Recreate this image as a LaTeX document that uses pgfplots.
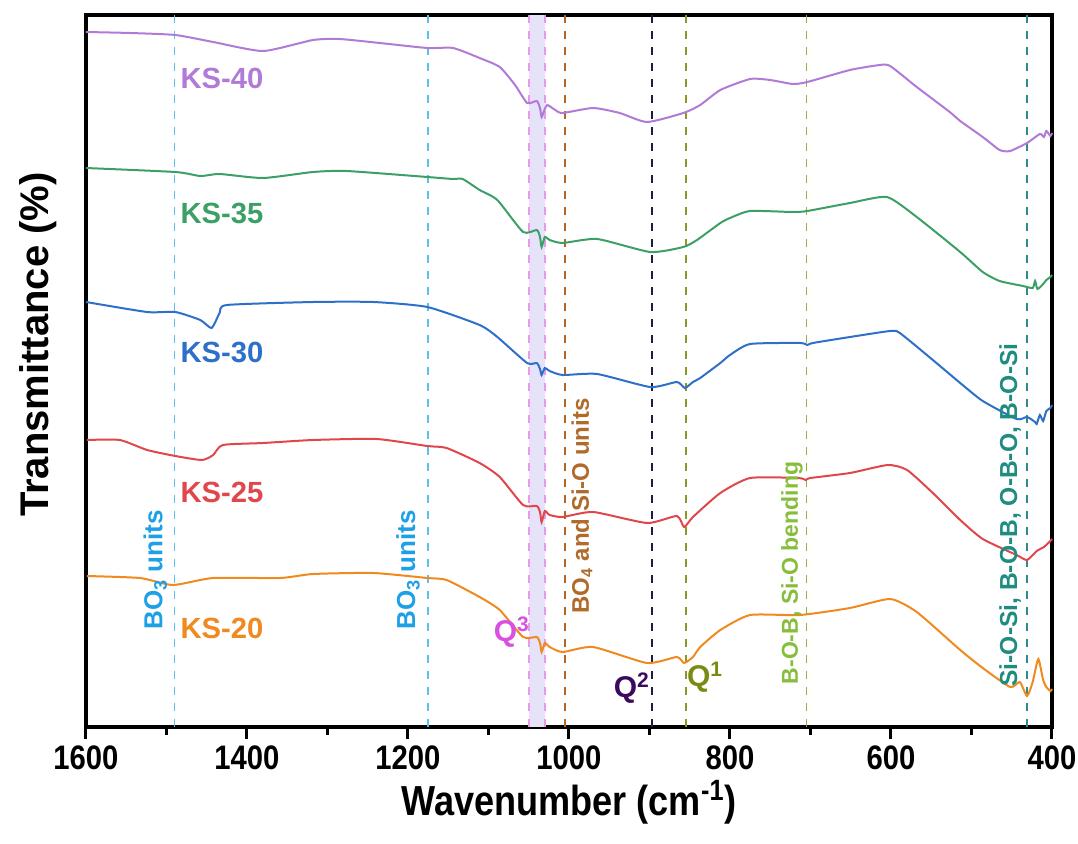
\documentclass[border=0pt]{standalone}
\usepackage{pgfplots}
\pgfplotsset{compat=1.18}
\usepackage{fontspec}
\setmainfont{Liberation Sans}
\newfontfamily\narrowsf[FakeStretch=0.86]{Liberation Sans}

\definecolor{cks40}{HTML}{B07AD6}
\definecolor{cks35}{HTML}{3CA066}
\definecolor{cks30}{HTML}{2E6FC9}
\definecolor{cks25}{HTML}{E0474C}
\definecolor{cks20}{HTML}{F0891E}
\definecolor{lbo3}{HTML}{5BC0EB}
\definecolor{tbo3}{HTML}{1EA0E6}
\definecolor{lq3}{HTML}{E89AE8}
\definecolor{fq3}{HTML}{E6E2FA}
\definecolor{tq3}{HTML}{D94FE0}
\definecolor{lbo4}{HTML}{B5651D}
\definecolor{tbo4}{HTML}{B06A2A}
\definecolor{lq2}{HTML}{1C1C4C}
\definecolor{tq2}{HTML}{3B0A5E}
\definecolor{lq1}{HTML}{8B9A1E}
\definecolor{tq1}{HTML}{7A8A12}
\definecolor{lbob}{HTML}{8DB33A}
\definecolor{tbob}{HTML}{86BD3A}
\definecolor{lsi}{HTML}{2E8B8B}
\definecolor{tsi}{HTML}{1E8C80}

\tikzset{
  spec/.style={line width=1pt, smooth, tension=0.35},
  vline/.style={line width=0.8pt, dash pattern=on 4pt off 4pt},
  ks/.style={anchor=west, inner sep=0pt, font=\bfseries\fontsize{14.6}{16}\selectfont},
}

\begin{document}
\begin{tikzpicture}
\begin{axis}[
  scale only axis,
  width=483pt, height=356pt,
  x dir=reverse,
  xmin=400, xmax=1600, ymin=0, ymax=712,
  xtick={400,600,...,1600},
  minor xtick={500,700,...,1500},
  ytick=\empty,
  xtick pos=bottom,
  tick align=outside,
  major tick length=6pt, minor tick length=4pt,
  every tick/.style={black, line width=1.5pt},
  axis line style={line width=2pt},
  /pgf/number format/1000 sep={},
  /pgf/number format/assume math mode=true,
  xticklabel style={font=\narrowsf\bfseries\fontsize{17}{19}\selectfont},
  clip=false,
]
% Q3 band
\fill[fq3] (axis cs:1050,0) rectangle (axis cs:1030,712);
\draw[lbo3, vline] (axis cs:1490,0) -- (axis cs:1490,712);
\draw[lbo3, vline] (axis cs:1175,0) -- (axis cs:1175,712);
\draw[lq3, vline] (axis cs:1050,0) -- (axis cs:1050,712);
\draw[lq3, vline] (axis cs:1030,0) -- (axis cs:1030,712);
\draw[lbo4, vline] (axis cs:1005,0) -- (axis cs:1005,712);
\draw[lq2, vline] (axis cs:897,0) -- (axis cs:897,712);
\draw[lq1, vline] (axis cs:855,0) -- (axis cs:855,712);
\draw[lbob, vline] (axis cs:705,0) -- (axis cs:705,712);
\draw[lsi, vline] (axis cs:431,0) -- (axis cs:431,712);

% KS-40
\addplot[cks40, spec] coordinates {
(1600,695) (1545,694) (1489,692) (1442,685) (1380,676) (1318,687) (1285,688)
(1235,684) (1176,679) (1144,679) (1111,669) (1086,660) (1067,642) (1052,624)
(1040,626) (1036,619) (1034,610) (1031,616) (1027,622) (1017,617) (1008,614)
(970,619) (937,614) (903,605) (858,614) (837,622) (812,637) (775,648) (750,647)
(722,643) (704,645) (651,657) (614,662) (601,661) (568,640) (527,615) (514,606)
(486,590) (465,577) (452,576) (431,584) (415,593) (410,590) (407,596) (402,591) (400,594)
};
% KS-35
\addplot[cks35, spec] coordinates {
(1600,559) (1489,555) (1458,551) (1434,553) (1380,549) (1318,555) (1276,556)
(1176,550) (1144,548) (1132,548) (1111,537) (1089,527) (1057,495) (1040,497)
(1036,490) (1034,480) (1030,490) (1024,487) (1008,484) (965,488) (899,475)
(858,480) (841,487) (812,504) (800,509) (775,516) (722,515) (704,516) (651,524)
(605,530) (568,510) (514,475) (486,455) (465,446) (436,441) (424,439) (421,446)
(418,438) (411,443) (407,447) (402,450) (400,452)
};
% KS-30
\addplot[cks30, spec] coordinates {
(1600,425) (1524,415) (1489,415) (1458,407) (1444,399) (1434,414) (1425,422)
(1318,425) (1243,425) (1176,420) (1111,402) (1089,390) (1052,364) (1040,364)
(1036,358) (1034,352) (1030,359) (1024,356) (1008,352) (965,353) (899,340)
(866,345) (856,339) (846,345) (837,349) (812,364) (800,372) (775,383) (713,384)
(704,382) (697,384) (651,390) (601,396) (589,394) (548,367) (514,344) (486,326)
(444,308) (431,310) (421,305) (419,303) (415,312) (411,306) (407,316) (402,319) (400,322)
};
% KS-25
\addplot[cks25, spec] coordinates {
(1599,287) (1558,287) (1524,277) (1489,271) (1456,267) (1442,272) (1430,282)
(1380,284) (1318,287) (1239,288) (1176,281) (1152,279) (1111,264) (1086,250)
(1057,222) (1040,221) (1036,215) (1034,205) (1030,216) (1024,212) (1008,210)
(970,215) (903,204) (866,211) (857,200) (846,210) (812,234) (775,249) (715,249)
(706,247) (700,249) (651,254) (604,262) (580,257) (548,234) (514,207) (486,188)
(444,172) (431,167) (419,176) (410,180) (402,186) (400,188)
};
% KS-20
\addplot[cks20, spec] coordinates {
(1599,151) (1533,149) (1492,142) (1442,149) (1359,149) (1318,153) (1243,154)
(1176,149) (1152,147) (1111,130) (1086,117) (1057,90) (1040,90) (1036,84)
(1034,75) (1030,84) (1024,80) (1008,75) (970,80) (903,64) (866,70) (857,64)
(846,70) (837,80) (812,97) (775,112) (713,112) (651,119) (601,128) (568,115)
(514,77) (486,59) (452,40) (440,45) (431,31) (424,45) (417,68) (411,47)
(407,40) (402,36) (400,38)
};

% sample labels
\node[ks, text=cks40] at (axis cs:1483,649) {KS-40};
\node[ks, text=cks35] at (axis cs:1483,514) {KS-35};
\node[ks, text=cks30] at (axis cs:1483,375) {KS-30};
\node[ks, text=cks25] at (axis cs:1483,235) {KS-25};
\node[ks, text=cks20] at (axis cs:1483,99) {KS-20};

% band annotations
\node[rotate=90, text=tbo3, font=\bfseries\fontsize{13}{15}\selectfont] at (axis cs:1514,157) {BO\textsubscript{3} units};
\node[rotate=90, text=tbo3, font=\bfseries\fontsize{13}{15}\selectfont] at (axis cs:1200,157) {BO\textsubscript{3} units};
\node[rotate=90, text=tbo4, font=\bfseries\fontsize{12}{14}\selectfont] at (axis cs:984,221) {BO\textsubscript{4} and Si-O units};
\node[rotate=90, text=tbob, font=\bfseries\fontsize{11.5}{14}\selectfont] at (axis cs:723,154) {B-O-B, Si-O bending};
\node[rotate=90, text=tsi, font=\bfseries\fontsize{12.3}{14}\selectfont] at (axis cs:452,212) {Si-O-Si, B-O-B, O-B-O, B-O-Si};
\node[text=tq3, font=\bfseries\fontsize{15}{17}\selectfont] at (axis cs:1071,95) {Q\textsuperscript{3}};
\node[text=tq2, font=\bfseries\fontsize{15}{17}\selectfont] at (axis cs:922,39) {Q\textsuperscript{2}};
\node[text=tq1, font=\bfseries\fontsize{15}{17}\selectfont] at (axis cs:831,50) {Q\textsuperscript{1}};

% axis titles
\node[rotate=90, font=\bfseries\fontsize{20}{22}\selectfont] at ([xshift=-24pt]rel axis cs:0,0.537) {Transmittance (\%)};
\node[font=\narrowsf\bfseries\fontsize{21}{23}\selectfont] at ([yshift=-37.5pt]rel axis cs:0.5,0) {Wavenumber (cm\textsuperscript{-1})};

\coordinate (sw) at (rel axis cs:0,0);
\coordinate (ne) at (rel axis cs:1,1);
\end{axis}
\pgfresetboundingbox
\path ([xshift=-43pt,yshift=-58pt]sw) rectangle ([xshift=13pt,yshift=7.5pt]ne);
\end{tikzpicture}
\end{document}
